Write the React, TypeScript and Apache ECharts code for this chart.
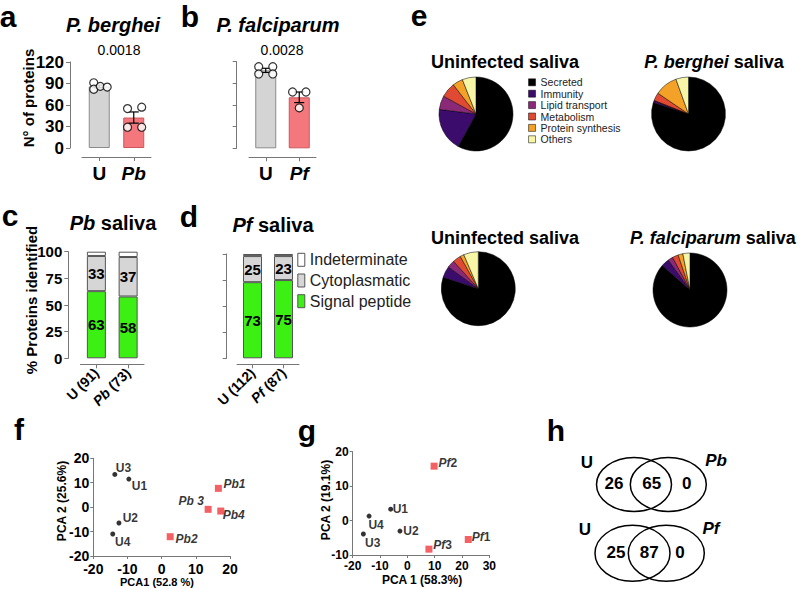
import React, { useEffect, useRef } from 'react';
import * as echarts from 'echarts';

const FONT = '"Liberation Sans", Arial, Helvetica, sans-serif';

// ---- Panel a / b: number of proteins ----
const catsPb = ['U', 'Pb'];
const catsPf = ['U', 'Pf'];
const pbUninfected = [91, 82, 86, 85];
const pbInfected = [55, 57, 29, 29];
const pfUninfected = [113, 113, 103, 103];
const pfInfected = [78, 78, 56];
const jitterPbU = [-0.16, -0.16, 0.03, 0.23];
const jitterPbI = [-0.18, 0.23, -0.18, 0.23];
const jitterPfU = [-0.21, 0.21, -0.21, 0.21];
const jitterPfI = [-0.2, 0.2, 0];
const pValuePb = '0.0018';
const pValuePf = '0.0028';

// ---- Panel c / d: % proteins identified ----
const catsC = ['U (91)', 'Pb (73)'];
const catsD = ['U (112)', 'Pf (87)'];
const cSignal = [63, 58];
const cCyto = [33, 37];
const cIndet = [4, 5];
const dSignal = [73, 75];
const dCyto = [25, 23];
const dIndet = [2, 2];
const stackNames = ['Indeterminate', 'Cytoplasmatic', 'Signal peptide'];

// ---- Panel e: pies ----
const pieCategories = ['Secreted', 'Immunity', 'Lipid transport', 'Metabolism', 'Protein synthesis', 'Others'];
const pieUninfPb = [58, 19, 6, 6.5, 4.5, 6];
const piePb = [80, 1, 0, 3.5, 10, 5.5];
const pieUninfPf = [80, 5, 3.3, 3.6, 1.7, 6.4];
const piePf = [86.5, 3.5, 2.2, 2.6, 2.1, 3.1];
const pieColors = ['#000000', '#3b0c6c', '#8c2878', '#e04a32', '#f3a127', '#f7f6a6'];

// ---- Panel f: PCA P. berghei ----
const fUNames = ['U3', 'U1', 'U2', 'U4'];
const fUX = [-13.7, -9.6, -12.5, -14.3];
const fUY = [13.4, 11.5, -6.5, -11];
const fPbNames = ['Pb1', 'Pb 3', 'Pb4', 'Pb2'];
const fPbX = [16.6, 13.6, 17.3, 2.5];
const fPbY = [7.7, -0.9, -1.6, -12.1];

// ---- Panel g: PCA P. falciparum ----
const gUNames = ['U1', 'U4', 'U2', 'U3'];
const gUX = [-6.1, -14.0, -2.7, -16.1];
const gUY = [3.3, 1.3, -3.05, -3.9];
const gPfNames = ['Pf2', 'Pf1', 'Pf3'];
const gPfX = [9.8, 22.3, 7.9];
const gPfY = [15.8, -5.5, -8.3];

// ---- Panel h: Venn ----
const vennPb = [26, 65, 0];
const vennPf = [25, 87, 0];

// label placement (style)
const fULabel: [string, number[]][] = [['right', [-3.5, -6]], ['right', [-1.5, 7]], ['right', [-0.8, -4.7]], ['right', [-2.2, 7.7]]];
const fPbLabel: [string, number[]][] = [['right', [-0.5, -4.3]], ['left', [1.2, -8.6]], ['right', [-3.5, 4]], ['right', [-0.1, 2.6]]];
const gULabel: [string, number[]][] = [['right', [-2.5, 0]], ['right', [-5.2, 9]], ['right', [-1.2, 0]], ['right', [-2.8, 9.3]]];
const gPfLabel: [string, number[]][] = [['right', [-1.2, -2.7]], ['right', [-2.1, -2.6]], ['right', [-1.2, -4]]];

const mean = (a: number[]) => a.reduce((s, v) => s + v, 0) / a.length;
const sem = (a: number[]) => {
  const m = mean(a);
  const v = a.reduce((s, x) => s + (x - m) ** 2, 0) / (a.length - 1);
  return Math.sqrt(v / a.length);
};

const AX = '#777';
const italicize = (v: string) => v.replace(/^(Pb|Pf)/, '{i|$1}');

function catAxis(grid: number, data: string[], offset: number, fontSize: number, rotate: number, margin: number) {
  return {
    type: 'category', gridIndex: grid, data, offset,
    axisLine: { show: true, onZero: false, lineStyle: { color: AX, width: 1 } },
    axisTick: { show: true, alignWithLabel: true, length: 4, lineStyle: { color: AX } },
    splitLine: { show: false },
    axisLabel: {
      show: true, interval: 0, rotate, margin, fontFamily: FONT, fontSize, fontWeight: 'bold', color: '#000',
      formatter: italicize,
      rich: { i: { fontFamily: FONT, fontSize, fontWeight: 'bold', fontStyle: 'italic', color: '#000' } },
    },
  };
}
function hiddenX(grid: number) {
  return { type: 'value', gridIndex: grid, min: -0.5, max: 1.5, show: false };
}
function valAxis(grid: number, min: number, max: number, interval: number, offset: number, showLabel: boolean, fontSize: number, margin: number, tick = 4) {
  return {
    type: 'value', gridIndex: grid, min, max, interval, offset,
    axisLine: { show: true, onZero: false, lineStyle: { color: AX, width: 1 } },
    axisTick: { show: true, length: tick, lineStyle: { color: AX } },
    splitLine: { show: false },
    axisLabel: { show: showLabel, fontFamily: FONT, fontSize, fontWeight: 'bold', color: '#000', margin },
  };
}

const grayBar = { color: '#d4d4d4', borderColor: '#8a8a8a', borderWidth: 1 };
const pinkBar = { color: '#f4777d', borderColor: '#c9575d', borderWidth: 1 };

function barGroup(xi: number, hx: number, yi: number, u: number[], inf: number[], ju: number[], ji: number[]) {
  return [
    {
      type: 'bar', xAxisIndex: xi, yAxisIndex: yi, barWidth: 21, z: 2, silent: true,
      data: [{ value: mean(u), itemStyle: grayBar }, { value: mean(inf), itemStyle: pinkBar }],
    },
    {
      type: 'custom', xAxisIndex: hx, yAxisIndex: yi, z: 3, clip: false, silent: true,
      data: [[0, mean(u), sem(u)], [1, mean(inf), sem(inf)]],
      renderItem: (_p: any, api: any) => {
        const x = api.value(0), m = api.value(1), s = api.value(2);
        const t = api.coord([x, m + s]);
        const b = api.coord([x, m - s]);
        const st = { stroke: '#000', lineWidth: 1.2 };
        return {
          type: 'group',
          children: [
            { type: 'line', shape: { x1: t[0], y1: t[1], x2: b[0], y2: b[1] }, style: st },
            { type: 'line', shape: { x1: t[0] - 5, y1: t[1], x2: t[0] + 5, y2: t[1] }, style: st },
            { type: 'line', shape: { x1: b[0] - 5, y1: b[1], x2: b[0] + 5, y2: b[1] }, style: st },
          ],
        };
      },
    },
    {
      type: 'scatter', xAxisIndex: hx, yAxisIndex: yi, z: 4, symbol: 'circle', symbolSize: 8, silent: true,
      itemStyle: { color: '#fff', borderColor: '#000', borderWidth: 1.2 },
      data: [...u.map((v, i) => [ju[i], v]), ...inf.map((v, i) => [1 + ji[i], v])],
    },
  ];
}

function stackSeries(xi: number, yi: number, stack: string, sig: number[], cyto: number[], ind: number[]) {
  const common = { type: 'bar', xAxisIndex: xi, yAxisIndex: yi, stack, barWidth: 19, silent: true };
  const lab = { show: true, position: 'inside', fontFamily: FONT, fontSize: 15, fontWeight: 'bold', color: '#000' };
  return [
    { ...common, name: 'Signal peptide', data: sig, itemStyle: { color: '#3cf014', borderColor: '#555', borderWidth: 1 }, label: lab },
    { ...common, name: 'Cytoplasmatic', data: cyto, itemStyle: { color: '#d6d6d6', borderColor: '#555', borderWidth: 1 }, label: lab },
    { ...common, name: 'Indeterminate', data: ind, itemStyle: { color: '#ffffff', borderColor: '#555', borderWidth: 1 }, label: { show: false } },
  ];
}

function pieSeries(center: number[], values: number[]) {
  return {
    type: 'pie', center, radius: 37, startAngle: 90, clockwise: true, silent: true,
    label: { show: false }, labelLine: { show: false },
    itemStyle: { borderColor: '#000', borderWidth: 0.5 },
    data: values.map((v, i) => ({ name: pieCategories[i], value: v, itemStyle: { color: pieColors[i] } })),
  };
}

function pcaSeries(xi: number, yi: number, names: string[], xs: number[], ys: number[], pos: [string, number[]][], kind: 'u' | 'inf', richPf: boolean) {
  const labelBase: any = {
    show: true, distance: 2, fontFamily: FONT, fontSize: 12, fontWeight: 'bold', color: '#000',
    fontStyle: kind === 'inf' && !richPf ? 'italic' : 'normal',
    formatter: (p: any) => (richPf ? p.name.replace('Pf', '{i|Pf}') : p.name),
    rich: { i: { fontFamily: FONT, fontSize: 12, fontWeight: 'bold', fontStyle: 'italic', color: '#000' } },
  };
  return {
    type: 'scatter', xAxisIndex: xi, yAxisIndex: yi, silent: true, z: 5,
    symbol: kind === 'u' ? 'circle' : 'rect',
    symbolSize: kind === 'u' ? 5 : 7,
    itemStyle: { color: kind === 'u' ? '#000' : '#f0393e' },
    label: labelBase,
    data: xs.map((x, i) => ({ value: [x, ys[i]], name: names[i], label: { position: pos[i][0], offset: pos[i][1] } })),
  };
}

function T(x: number, y: number, text: string, size: number, o: any = {}) {
  const align = o.align || 'center';
  return {
    type: 'text', x, y, rotation: o.rot || 0, z: 100, silent: true,
    style: {
      text, fontFamily: FONT, fontSize: size, fontWeight: o.weight || 'bold', fontStyle: o.italic ? 'italic' : 'normal',
      fill: '#000', textAlign: align, align, textVerticalAlign: 'middle', verticalAlign: 'middle',
      rich: {
        i: { fontFamily: FONT, fontSize: size, fontWeight: o.weight || 'bold', fontStyle: 'italic', fill: '#000', color: '#000' },
        n: { fontFamily: FONT, fontSize: size, fontWeight: o.weight || 'bold', fontStyle: 'normal', fill: '#000', color: '#000' },
      },
    },
  };
}
function E(cx: number, cy: number, rx: number, ry: number) {
  return { type: 'ellipse', shape: { cx, cy, rx, ry }, z: 90, silent: true, style: { fill: 'transparent', stroke: '#000', lineWidth: 1.5 } };
}

function buildOption() {
  const graphic: any[] = [
    // panel letters
    T(8, 16, 'a', 30), T(190, 16, 'b', 30), T(10, 215, 'c', 30), T(189, 216, 'd', 30),
    T(419, 15, 'e', 30), T(19, 429, 'f', 30), T(307, 430, 'g', 30), T(556, 430, 'h', 30),
    // a / b
    T(113, 25, 'P. berghei', 20, { italic: true }), T(278, 25, 'P. falciparum', 20, { italic: true }),
    T(119, 50, pValuePb, 14, { weight: 'normal' }), T(282, 50, pValuePf, 14, { weight: 'normal' }),
    T(28, 98, 'N° of proteins', 15, { rot: Math.PI / 2 }),
    // c / d
    T(113, 223, '{i|Pb} saliva', 20), T(273, 225, '{i|Pf} saliva', 20),
    T(31, 300, '% Proteins identified', 15, { rot: Math.PI / 2 }),
    // e titles
    T(505, 62, 'Uninfected saliva', 18), T(714, 62, '{i|P. berghei} saliva', 18),
    T(505, 238, 'Uninfected saliva', 18), T(630, 238, '{i|P. falciparum} saliva', 18, { align: 'left' }),
    // f / g axis names
    T(157, 582, 'PCA1 (52.8 %)', 11), T(62, 501, 'PCA 2 (25.6%)', 12, { rot: Math.PI / 2 }),
    T(422, 580, 'PCA 1 (58.3%)', 12), T(326, 500, 'PCA 2 (19.1%)', 12, { rot: Math.PI / 2 }),
    // h Venn
    E(634, 484.5, 37.5, 27), E(668.3, 484.5, 38, 27),
    E(632.5, 553.3, 37.5, 28), E(666.3, 553.3, 38, 28),
    T(614, 483.5, String(vennPb[0]), 17), T(651.7, 483.5, String(vennPb[1]), 17), T(686.7, 483.5, String(vennPb[2]), 17),
    T(616, 552, String(vennPf[0]), 17), T(649.3, 552, String(vennPf[1]), 17), T(680, 552, String(vennPf[2]), 17),
    T(587, 462, 'U', 17), T(716, 460, 'Pb', 17, { italic: true }),
    T(585, 529.5, 'U', 17), T(711, 528.5, 'Pf', 17, { italic: true }),
  ];

  return {
    animation: false,
    backgroundColor: '#ffffff',
    textStyle: { fontFamily: FONT },
    grid: [
      { left: 82, top: 62, width: 69, height: 86, outerBoundsMode: 'none', containLabel: false },
      { left: 249, top: 61.7, width: 67, height: 86.6, outerBoundsMode: 'none', containLabel: false },
      { left: 80.5, top: 251.7, width: 63.5, height: 106.6, outerBoundsMode: 'none', containLabel: false },
      { left: 237, top: 254, width: 62, height: 104.3, outerBoundsMode: 'none', containLabel: false },
      { left: 93.3, top: 458.3, width: 136.7, height: 97.7, outerBoundsMode: 'none', containLabel: false },
      { left: 352.7, top: 451.7, width: 136.6, height: 103.3, outerBoundsMode: 'none', containLabel: false },
    ],
    xAxis: [
      catAxis(0, catsPb, 9, 19, 0, 7), // 0
      hiddenX(0), // 1
      catAxis(1, catsPf, 9, 19, 0, 7), // 2
      hiddenX(1), // 3
      catAxis(2, catsC, 6, 14, 45, 6), // 4
      catAxis(3, catsD, 6, 14, 45, 6), // 5
      valAxis(4, -20, 20, 10, 0, true, 14, 6, 3), // 6
      valAxis(5, -20, 30, 10, 0, true, 12, 5, 3), // 7
    ],
    yAxis: [
      valAxis(0, 0, 120, 30, 12, true, 17, 6),
      valAxis(1, 0, 120, 30, 12.3, false, 17, 6),
      valAxis(2, 0, 100, 25, 12.2, true, 15, 6),
      valAxis(3, 0, 100, 25, 10.3, false, 15, 6),
      valAxis(4, -20, 20, 10, 0, true, 14, 4, 3),
      valAxis(5, -10, 20, 10, 0, true, 12, 4, 3),
    ],
    legend: [
      {
        orient: 'vertical', left: 297.3, top: 251.8, padding: 0, itemWidth: 7, itemHeight: 13, itemGap: 4.7,
        icon: 'rect', selectedMode: false, data: stackNames,
        itemStyle: { borderColor: '#555', borderWidth: 1 },
        textStyle: { fontFamily: FONT, fontSize: 16, color: '#222', lineHeight: 13 },
      },
      {
        orient: 'vertical', left: 528.3, top: 76.8, padding: 0, itemWidth: 7, itemHeight: 7, itemGap: 0.4,
        icon: 'rect', selectedMode: false, data: pieCategories,
        itemStyle: { borderColor: '#000', borderWidth: 0.5 },
        textStyle: { fontFamily: FONT, fontSize: 10.5, color: '#222', lineHeight: 11 },
      },
    ],
    series: [
      ...barGroup(0, 1, 0, pbUninfected, pbInfected, jitterPbU, jitterPbI),
      ...barGroup(2, 3, 1, pfUninfected, pfInfected, jitterPfU, jitterPfI),
      ...stackSeries(4, 2, 'c', cSignal, cCyto, cIndet),
      ...stackSeries(5, 3, 'd', dSignal, dCyto, dIndet),
      pieSeries([476, 114], pieUninfPb),
      pieSeries([688.5, 114], piePb),
      pieSeries([478.3, 288.7], pieUninfPf),
      pieSeries([690, 290], piePf),
      pcaSeries(6, 4, fUNames, fUX, fUY, fULabel, 'u', false),
      pcaSeries(6, 4, fPbNames, fPbX, fPbY, fPbLabel, 'inf', false),
      pcaSeries(7, 5, gUNames, gUX, gUY, gULabel, 'u', false),
      pcaSeries(7, 5, gPfNames, gPfX, gPfY, gPfLabel, 'inf', true),
    ],
    graphic,
  };
}

export default function App() {
  const ref = useRef<HTMLDivElement>(null);
  useEffect(() => {
    if (!ref.current) return;
    const chart = echarts.init(ref.current, null, { renderer: 'svg' });
    chart.setOption(buildOption() as any);
    return () => chart.dispose();
  }, []);
  return (
    <div
      ref={ref}
      style={{ position: 'fixed', left: 0, top: 0, width: 800, height: 589, background: '#fff' }}
    />
  );
}
